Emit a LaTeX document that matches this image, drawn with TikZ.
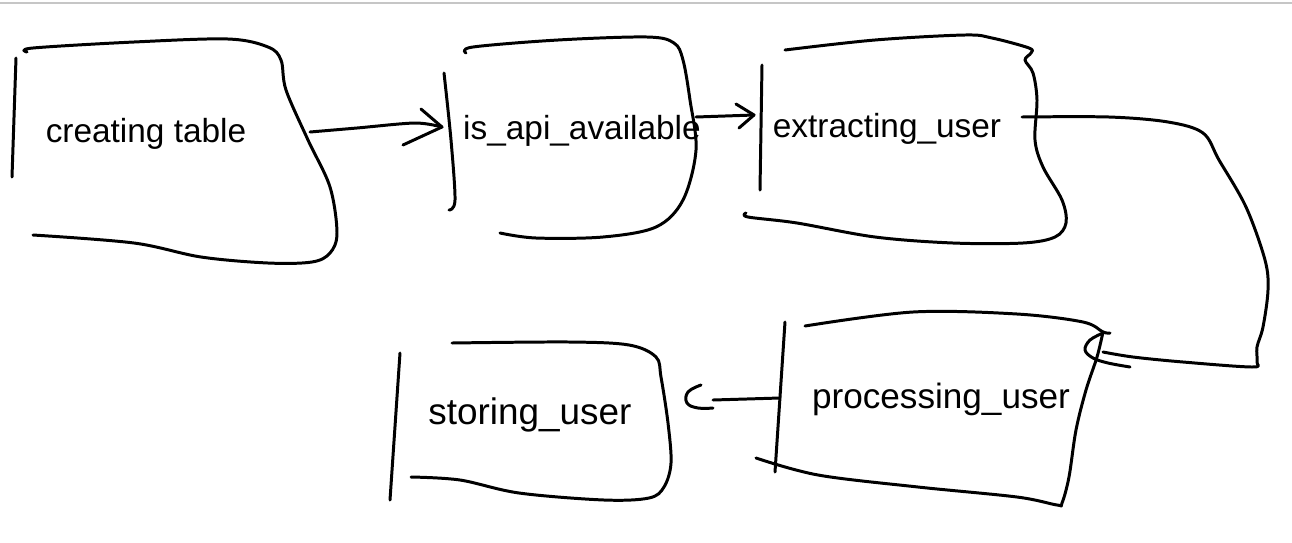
\documentclass[tikz,border=0pt]{standalone}
\usepackage{fontspec}
\setmainfont{Liberation Sans}
\usetikzlibrary{calc}
\begin{document}
\begin{tikzpicture}[x=0.02cm,y=-0.02cm,
  pen/.style={line width=1.7pt, line cap=round, line join=round, black},
  ink/.style={pen, smooth, tension=0.55},
  lbl/.style={font=\fontsize{19}{21}\selectfont, inner sep=0pt, anchor=base}]
\fill[white] (0,0) rectangle (1292,542);
\useasboundingbox (0,0) rectangle (1292,542);
\draw[gray!45, line width=0.8pt] (0,3) -- (1292,3);

% ---------- box 1: creating table
\draw[pen] (16,58) -- (12,177);
\draw[pen] plot[smooth, tension=0.55] coordinates {(27,52) (33,48) (134,42) (228,39) (268,47) (281,60) (286,90) (308,140) (330,187) (337,233) (330,253) (312,262) (268,263) (201,257) (134,243) (33,235)};
\node[lbl] (t1) at (146,142) {creating table};

% ---------- box 2: is_api_available
\draw[pen] plot[smooth, tension=0.55] coordinates {(444,73) (451,140) (455,200) (449,210)};
\draw[pen] plot[smooth, tension=0.55] coordinates {(466,53) (473,47) (558,40) (647,37) (674,43) (683,60) (690,100) (696,150) (683,200) (656,227) (603,237) (536,238) (500,233)};
\node[lbl] (t2) at (582,139) {is\_api\_available};

% ---------- box 3: extracting_user
\draw[pen] (762,65) -- (760,190);
\draw[pen] plot[smooth, tension=0.55] coordinates {(785,50) (875,40) (965,35) (992,38) (1029,48) (1031,53) (1025,60) (1033,73) (1037,100) (1035,140) (1043,167) (1062,200) (1066,223) (1055,237) (1023,243) (953,243) (875,237) (797,223) (748,217) (746,213)};
\node[lbl] (t3) at (887,137) {extracting\_user};

% ---------- box 4: processing_user
\draw[pen] (785,322) -- (775,472);
\draw[pen] plot[smooth, tension=0.55] coordinates {(805,326) (913,312) (1017,314) (1083,322) (1103,332) (1110,333)};
\draw[pen] plot[smooth, tension=0.55] coordinates {(1103,332) (1097,357) (1086,390) (1076,430) (1069,477) (1062,503) (1057,505) (1017,497) (918,487) (818,475) (756,458)};
\node[lbl, font=\fontsize{20}{22}\selectfont] (t4) at (941,408) {processing\_user};

% ---------- box 5: storing_user
\draw[pen] (400,353) -- (390,500);
\draw[pen] plot[smooth, tension=0.55] coordinates {(452,343) (569,342) (629,345) (656,357) (661,377) (668,423) (671,463) (664,487) (649,498) (604,500) (519,493) (460,480) (411,477)};
\node[lbl, font=\fontsize{21}{23}\selectfont] (t5) at (530,424) {storing\_user};

% ---------- connectors
\coordinate (c1s) at (310,132);
\coordinate (c1e) at (442,127);
\draw[pen] plot[smooth, tension=0.5] coordinates {(c1s) (357,128) (415,123) (c1e)};
\draw[pen] (421,109) -- (c1e) -- (403,145);

\coordinate (c2s) at (696,117);
\coordinate (c2e) at (754,115);
\draw[pen] (c2s) -- (c2e);
\draw[pen] (736,104) -- (c2e) -- (739,128);

\coordinate (c3s) at (1022,117);
\coordinate (c3e) at (1103,352);
\draw[pen] plot[smooth, tension=0.55] coordinates {(c3s) (1109,117) (1168,122) (1203,133) (1219,160) (1246,207) (1265,260) (1268,290) (1263,327) (1257,347) (1257,362) (1252,367) (1183,362) (1133,357) (c3e)};
\draw[pen] plot[smooth, tension=0.6] coordinates {(1103,333) (1090,340) (1085,350) (1093,358) (1108,363) (1130,367)};

\coordinate (c4s) at (780,398);
\coordinate (c4e) at (713,400);
\draw[pen] (c4s) -- (c4e);
\draw[pen] plot[smooth, tension=0.7] coordinates {(701,385) (688,392) (687,403) (698,408) (713,408)};
\end{tikzpicture}
\end{document}
